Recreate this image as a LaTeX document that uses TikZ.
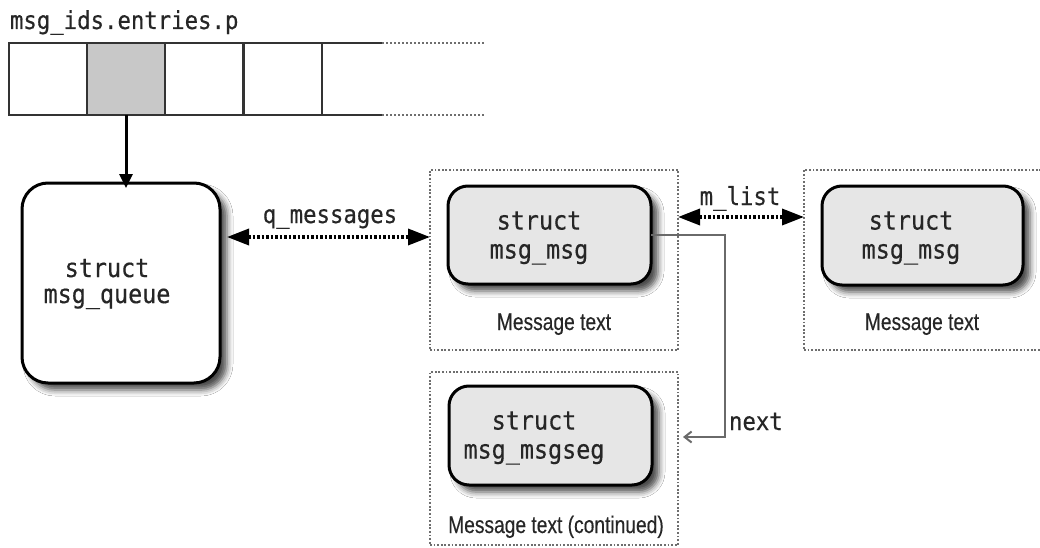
\documentclass[tikz,border=0pt]{standalone}
\usepackage{fontspec}
\newfontfamily\monocond[FakeStretch=0.9,FakeBold=0.4]{DejaVu Sans Mono}
\newfontfamily\condsans[FakeStretch=0.8,FakeBold=0.3]{Liberation Sans}
\usetikzlibrary{arrows.meta,shadows.blur}
\definecolor{boxgray}{HTML}{E6E6E6}
\definecolor{cellgray}{HTML}{C8C8C8}
\definecolor{ink}{HTML}{262626}
\definecolor{dotgray}{HTML}{6E6E6E}
\definecolor{linegray}{HTML}{333333}
\definecolor{nextgray}{HTML}{6A6A6A}
\newcommand\monolbl{\monocond\fontsize{24.8}{29}\selectfont}
\newcommand\monobox{\monocond\fontsize{26}{29}\selectfont}
\newcommand\monoq{\monocond\fontsize{26}{26}\selectfont}
\newcommand\captxt{\condsans\fontsize{24}{28}\selectfont}
\begin{document}
\begin{tikzpicture}[x=1pt,y=-1pt,
  every node/.style={inner sep=0pt, outer sep=0pt},
  shadowed/.style={blur shadow={shadow xshift=7pt, shadow yshift=-7pt, shadow blur radius=6pt, shadow opacity=70}},
  structbox/.style={draw=black, line width=3pt, rounded corners=20pt, fill=boxgray, shadowed},
  queuebox/.style={draw=black, line width=3pt, rounded corners=26pt, fill=white, shadowed},
  container/.style={draw=dotgray, line width=1.8pt, dash pattern=on 1.8pt off 1.8pt},
  cell/.style={draw=linegray, line width=2pt, minimum width=78pt, minimum height=72pt},
  monotext/.style={text=ink, align=center},
  dblarrow/.style={line width=3.5pt, dash pattern=on 2.5pt off 2pt, {Triangle[length=22pt,width=16pt]}-{Triangle[length=22pt,width=16pt]}},
  downarrow/.style={line width=3pt, -{Triangle[length=14pt,width=13pt]}},
  nextline/.style={draw=nextgray, line width=2pt, -{Straight Barb[length=7pt,width=11pt]}},
]
\clip (0,0) rectangle (1040,548);
\fill[white] (0,0) rectangle (1040,548);

% array of entries
\node[anchor=base west, font=\monolbl, text=ink] (arrlbl) at (10,29) {msg\_ids.entries.p};
\node[cell] (c1) at (48,79) {};
\node[cell, fill=cellgray] (c2) at (126,79) {};
\node[cell] (c3) at (204,79) {};
\node[cell] (c4) at (282.5,79) {};
\coordinate (tsolid) at (382,43);
\coordinate (bsolid) at (382,115);
\coordinate (tend) at (485,43);
\coordinate (bend) at (485,115);
\draw[linegray, line width=2pt] (c4.north east) -- (tsolid) (c4.south east) -- (bsolid);
\draw[dotgray, line width=1.8pt, dash pattern=on 2pt off 2pt] (tsolid) -- (tend) (bsolid) -- (bend);

% containers
\node[container, minimum width=248pt, minimum height=180pt] (d1) at (554,260) {};
\node[container, minimum width=250pt, minimum height=180pt, anchor=west] (d2) at (804,260) {};
\node[container, minimum width=248pt, minimum height=173pt] (d3) at (554,458.5) {};

% structures
\node[queuebox, minimum width=198pt, minimum height=200pt] (queue) at (121,283) {};
\node[monotext, font=\monoq] (queuetxt) at (107,284) {struct\\msg\_queue};

\node[structbox, minimum width=203pt, minimum height=98pt] (g1) at (549.5,235) {};
\node[monotext, font=\monobox] (g1txt) at (539,238) {struct\\msg\_msg};

\node[structbox, minimum width=201pt, minimum height=99pt] (g2) at (922.5,235.5) {};
\node[monotext, font=\monobox] (g2txt) at (911,238) {struct\\msg\_msg};

\node[structbox, minimum width=203pt, minimum height=99pt] (g3) at (550.5,435.5) {};
\node[monotext, font=\monobox] (g3txt) at (534,438) {struct\\msg\_msgseg};

% captions
\node[anchor=base, font=\captxt, text=ink] (cap1) at (554,330) {Message text};
\node[anchor=base, font=\captxt, text=ink] (cap2) at (922,330) {Message text};
\node[anchor=base, font=\captxt, text=ink] (cap3) at (556,533) {Message text (continued)};

% connectors
\draw[downarrow] (c2.south) -- ([yshift=-5pt]c2.south |- queue.north);
\draw[dblarrow, shorten <=7pt] (queue.east |- 0,237) -- (d1.west |- 0,237);
\node[anchor=base, font=\monolbl, text=ink] (qlbl) at (330,223) {q\_messages};
\draw[dblarrow] (d1.east |- 0,217) -- (d2.west |- 0,217);
\node[anchor=base, font=\monolbl, text=ink] (mlbl) at (740,205) {m\_list};
\coordinate (nx) at (725,437);
\draw[nextline, shorten >=5pt] (g1.east) -| (nx) -- (d3.east |- nx);
\node[anchor=base west, font=\monolbl, text=ink] (nlbl) at (729,430) {next};
\end{tikzpicture}
\end{document}
